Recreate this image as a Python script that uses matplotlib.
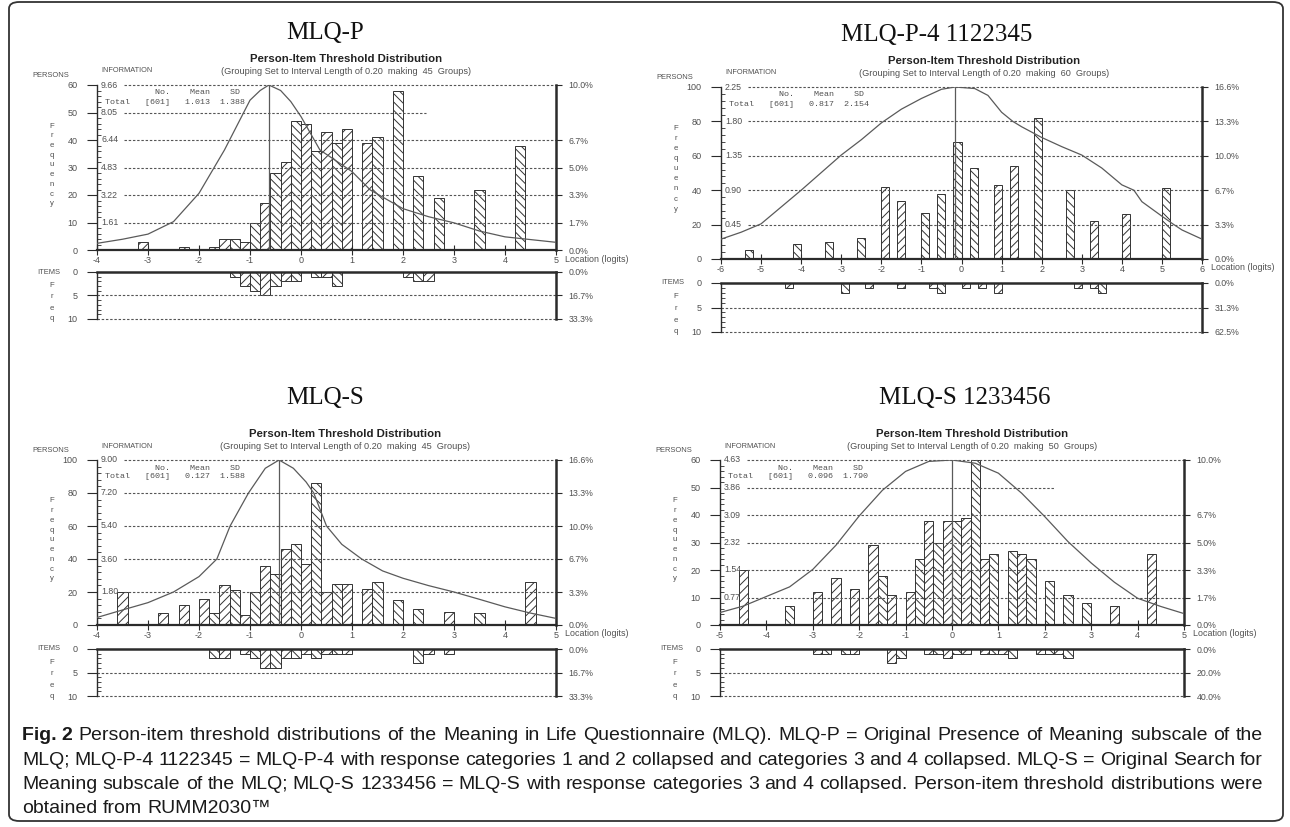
import numpy as np
import matplotlib
matplotlib.use('Agg')
import matplotlib.pyplot as plt
from matplotlib.ticker import MultipleLocator
from matplotlib.patches import FancyBboxPatch

plt.rcParams['font.family'] = ['Liberation Sans', 'DejaVu Sans']
plt.rcParams['hatch.linewidth'] = 0.7
plt.rcParams['axes.unicode_minus'] = False

W, H = 1290, 827
INK = '#2b2b2b'
GREY = '#505050'
DASH = (0, (2.2, 1.6))

# ----------------------------- data

# MLQ-P
p_person_loc = [-3.1, -2.3, -1.7, -1.5, -1.3, -1.1, -0.9, -0.7, -0.5, -0.3, -0.1, 0.1, 0.3,
                0.5, 0.7, 0.9, 1.3, 1.5, 1.9, 2.3, 2.7, 3.5, 4.3]
p_person_n = [3, 1, 1, 4, 4, 3, 10, 17, 28, 32, 47, 46, 36, 43, 39, 44, 39, 41, 58, 27, 19, 22, 38]
p_item_loc = [-1.3, -1.1, -0.9, -0.7, -0.5, -0.3, -0.1, 0.3, 0.5, 0.7, 2.1, 2.3, 2.5]
p_item_n = [1, 3, 4, 5, 3, 2, 2, 1, 1, 3, 1, 2, 2]
p_info_loc = [-4, -3.5, -3, -2.5, -2, -1.5, -1, -0.8, -0.63, -0.4, -0.2, 0, 0.37, 1.0, 1.36,
              2.0, 2.5, 3.0, 3.5, 4.0, 5.0]
p_info = [0.39, 0.63, 0.93, 1.66, 3.32, 5.86, 8.77, 9.34, 9.66, 9.34, 8.69, 7.81, 5.86, 4.59,
          3.51, 2.42, 1.95, 1.59, 1.11, 0.77, 0.45]

# MLQ-P-4 1122345
p4_person_loc = [-5.3, -4.1, -3.3, -2.5, -1.9, -1.5, -0.9, -0.5, -0.1, 0.3, 0.9, 1.3, 1.9,
                 2.7, 3.3, 4.1, 5.1]
p4_person_n = [5, 9, 10, 12, 42, 34, 27, 38, 68, 53, 43, 54, 82, 40, 22, 26, 41]
p4_item_loc = [-4.3, -2.9, -2.3, -1.5, -0.7, -0.5, 0.1, 0.5, 0.9, 2.9, 3.3, 3.5]
p4_item_n = [1, 2, 1, 1, 1, 2, 1, 1, 2, 1, 1, 2]
p4_info_loc = [-6, -5.5, -5, -4.5, -4, -3.5, -3, -2.5, -2, -1.5, -1, -0.5, -0.16, 0.33, 0.66,
               1.0, 1.28, 1.5, 2.0, 2.5, 3.0, 3.5, 4.0, 4.3, 4.5, 5.0, 5.27, 5.5, 6.0]
p4_info = [0.26, 0.35, 0.46, 0.68, 0.90, 1.13, 1.36, 1.56, 1.78, 1.96, 2.10, 2.22, 2.25, 2.23,
           2.14, 1.92, 1.80, 1.73, 1.59, 1.47, 1.36, 1.19, 0.97, 0.90, 0.75, 0.56, 0.46, 0.38,
           0.26]

# MLQ-S
s_person_loc = [-3.5, -2.7, -2.3, -1.9, -1.7, -1.5, -1.3, -1.1, -0.9, -0.7, -0.5, -0.3, -0.1,
                0.1, 0.3, 0.5, 0.7, 0.9, 1.3, 1.5, 1.9, 2.3, 2.9, 3.5, 4.5]
s_person_n = [20, 7, 12, 16, 7, 24, 21, 6, 20, 36, 31, 46, 49, 37, 86, 20, 25, 25, 22, 26, 15,
              10, 8, 7, 26]
s_item_loc = [-1.7, -1.5, -1.1, -0.9, -0.7, -0.5, -0.3, -0.1, 0.1, 0.3, 0.5, 0.7, 0.9, 2.3,
              2.5, 2.9]
s_item_n = [2, 2, 1, 2, 4, 4, 2, 2, 1, 2, 1, 1, 1, 3, 1, 1]
s_info_loc = [-4, -3.5, -3, -2.5, -2, -1.65, -1.39, -1.03, -0.7, -0.43, -0.15, 0.1, 0.25, 0.5,
              0.8, 1.19, 1.6, 2.0, 2.5, 3.0, 3.5, 4.0, 4.5, 5.0]
s_info = [0.41, 0.82, 1.22, 1.80, 2.64, 3.60, 5.40, 7.20, 8.55, 9.00, 8.55, 7.80, 7.20, 5.40,
          4.40, 3.60, 2.95, 2.55, 2.15, 1.80, 1.40, 0.99, 0.65, 0.36]

# MLQ-S 1233456
s6_person_loc = [-4.5, -3.5, -2.9, -2.5, -2.1, -1.7, -1.5, -1.3, -0.9, -0.7, -0.5, -0.3, -0.1,
                 0.1, 0.3, 0.5, 0.7, 0.9, 1.3, 1.5, 1.7, 2.1, 2.5, 2.9, 3.5, 4.3]
s6_person_n = [20, 7, 12, 17, 13, 29, 18, 11, 12, 24, 38, 30, 38, 38, 39, 60, 24, 26, 27, 26,
               24, 16, 11, 8, 7, 26]
s6_item_loc = [-2.9, -2.7, -2.3, -2.1, -1.3, -1.1, -0.5, -0.3, -0.1, 0.1, 0.3, 0.7, 0.9, 1.1,
               1.3, 1.9, 2.1, 2.3, 2.5]
s6_item_n = [1, 1, 1, 1, 3, 2, 1, 1, 2, 1, 1, 1, 1, 1, 2, 1, 1, 1, 2]
s6_info_loc = [-5, -4.5, -4, -3.5, -3, -2.5, -2, -1.5, -1, -0.5, 0, 0.5, 1, 1.5, 2, 2.5, 3,
               3.5, 4, 4.5, 5]
s6_info = [0.35, 0.53, 0.80, 1.07, 1.56, 2.24, 3.06, 3.78, 4.31, 4.59, 4.63, 4.54, 4.26, 3.70,
           3.04, 2.34, 1.74, 1.20, 0.75, 0.52, 0.32]

# axis labels
info_ticks_60 = [60, 50, 40, 30, 20, 10]
info_ticks_100 = [100, 80, 60, 40, 20]
p_info_labels = ['9.66', '8.05', '6.44', '4.83', '3.22', '1.61']
p4_info_labels = ['2.25', '1.80', '1.35', '0.90', '0.45']
s_info_labels = ['9.00', '7.20', '5.40', '3.60', '1.80']
s6_info_labels = ['4.63', '3.86', '3.09', '2.32', '1.54', '0.77']
pct_pos_60 = [60, 40, 30, 20, 10, 0]
pct_lab_60 = ['10.0%', '6.7%', '5.0%', '3.3%', '1.7%', '0.0%']
pct_pos_100 = [100, 80, 60, 40, 20, 0]
pct_lab_100 = ['16.6%', '13.3%', '10.0%', '6.7%', '3.3%', '0.0%']
p_item_pct = ['0.0%', '16.7%', '33.3%']
p4_item_pct = ['0.0%', '31.3%', '62.5%']
s6_item_pct = ['0.0%', '20.0%', '40.0%']

caption = [
    'Person-item threshold distributions of the Meaning in Life Questionnaire (MLQ). '
    'MLQ-P = Original Presence of Meaning subscale of the',
    'MLQ; MLQ-P-4 1122345 = MLQ-P-4 with response categories 1 and 2 collapsed and '
    'categories 3 and 4 collapsed. MLQ-S = Original Search for',
    'Meaning subscale of the MLQ; MLQ-S 1233456 = MLQ-S with response categories 3 and 4 '
    'collapsed. Person-item threshold distributions were',
    'obtained from RUMM2030\u2122',
]

# ----------------------------- drawing

fig = plt.figure(figsize=(W / 100, H / 100), dpi=100)
fig.patch.set_facecolor('white')


def px_axes(left, top, right, bottom):
    return fig.add_axes([left / W, 1 - bottom / H, (right - left) / W, (bottom - top) / H])


def px_text(x, y, s, **kw):
    kw.setdefault('color', GREY)
    return fig.text(x / W, 1 - y / H, s, **kw)


def draw_bars(ax, loc, n, xmin):
    bars = ax.bar(loc, n, width=0.2, color='white', edgecolor='#333333', linewidth=0.7)
    for b, c in zip(bars, loc):
        k = int(round((c - xmin) / 0.2 - 0.5))
        b.set_hatch('\\\\\\\\' if k % 2 else '////')


def draw_panel(box, xlim, pstep, pmax, pminor, person_loc, person_n, item_loc, item_n,
               info_loc, info_val, info_pos, info_labels, pct_pos, pct_labels, item_pct,
               peak, stats, groups, title, title_xy, head_x, cut50=None):
    x0, x1, ptop, pbot, itop, ibot = box
    xmin, xmax = xlim
    upx = (xmax - xmin) / (x1 - x0)

    # ---- persons
    ax = px_axes(x0, ptop, x1, pbot)
    ax.set_xlim(xmin, xmax)
    ax.set_ylim(0, pmax)
    ax.set_facecolor('none')
    ax.spines['top'].set_visible(False)
    ax.spines['right'].set_visible(False)
    ax.spines['left'].set_linewidth(1.0)
    ax.spines['bottom'].set_linewidth(1.6)
    for s in ax.spines.values():
        s.set_color(INK)
    ax.set_xticks(range(xmin, xmax + 1))
    ax.set_xticklabels([str(v) for v in range(xmin, xmax + 1)])
    ax.tick_params(axis='x', direction='inout', length=7, width=0.8, color=INK,
                   labelsize=6.5, labelcolor=GREY, pad=1)
    ax.set_yticks(np.arange(0, pmax + 1, pstep))
    ax.yaxis.set_minor_locator(MultipleLocator(pminor))
    ax.tick_params(axis='y', which='major', direction='out', length=7, width=0.8, color=INK,
                   labelsize=6.5, labelcolor=GREY, pad=7)
    ax.tick_params(axis='y', which='minor', direction='in', length=3, width=0.6, color=INK)

    draw_bars(ax, person_loc, person_n, xmin)

    for yv, lab in zip(info_pos, info_labels):
        xend = cut50 if (cut50 is not None and yv == 50) else xmax
        ax.hlines(yv, xmin + 27 * upx, xend, colors='#555555', linestyles=DASH,
                  linewidth=0.8, clip_on=False)
        ax.text(xmin + 4 * upx, yv, lab, fontsize=6.3, color=GREY, va='center', ha='left')

    ax_r = ax.twinx()
    ax_r.set_ylim(0, pmax)
    for k in ['top', 'left', 'bottom']:
        ax_r.spines[k].set_visible(False)
    ax_r.spines['right'].set_linewidth(1.8)
    ax_r.spines['right'].set_color(INK)
    ax_r.set_yticks(pct_pos)
    ax_r.set_yticklabels(pct_labels)
    ax_r.tick_params(axis='y', direction='out', length=4, width=0.8, color=INK,
                     labelsize=6.3, labelcolor=GREY, pad=5)

    ax_i = ax.twinx()
    ax_i.set_ylim(0, float(info_labels[0]))
    ax_i.axis('off')
    ax_i.plot(info_loc, info_val, color='#5a5a5a', linewidth=0.9)
    ax_i.vlines(peak, 0, float(info_labels[0]), colors='#5a5a5a', linewidth=0.9)

    # ---- items
    axb = px_axes(x0, itop, x1, ibot)
    axb.set_xlim(xmin, xmax)
    axb.set_ylim(10, 0)
    axb.set_facecolor('none')
    axb.spines['bottom'].set_visible(False)
    axb.spines['right'].set_visible(False)
    axb.spines['top'].set_linewidth(1.8)
    axb.spines['left'].set_linewidth(1.0)
    for s in axb.spines.values():
        s.set_color(INK)
    axb.set_xticks([])
    axb.set_yticks([0, 5, 10])
    axb.yaxis.set_minor_locator(MultipleLocator(1))
    axb.tick_params(axis='y', which='major', direction='out', length=7, width=0.8, color=INK,
                    labelsize=6.5, labelcolor=GREY, pad=7)
    axb.tick_params(axis='y', which='minor', direction='in', length=3, width=0.6, color=INK)
    draw_bars(axb, item_loc, item_n, xmin)
    for yv in [5, 10]:
        axb.hlines(yv, xmin, xmax, colors='#555555', linestyles=DASH, linewidth=0.8,
                   clip_on=False)
    axb_r = axb.twinx()
    axb_r.set_ylim(10, 0)
    for k in ['top', 'left', 'bottom']:
        axb_r.spines[k].set_visible(False)
    axb_r.spines['right'].set_linewidth(1.8)
    axb_r.spines['right'].set_color(INK)
    axb_r.set_yticks([0, 5, 10])
    axb_r.set_yticklabels(item_pct)
    axb_r.tick_params(axis='y', direction='out', length=4, width=0.8, color=INK,
                      labelsize=6.3, labelcolor=GREY, pad=5)

    # ---- texts
    px_text(title_xy[0], title_xy[1], title, family='Liberation Serif', fontsize=18,
            color='#111111', ha='center', va='center')
    px_text(head_x, ptop - 26, 'Person-Item Threshold Distribution', fontsize=8.2,
            fontweight='bold', color='#222222', ha='center', va='center')
    px_text(head_x, ptop - 13,
            '(Grouping Set to Interval Length of 0.20  making  %d  Groups)' % groups,
            fontsize=6.6, ha='center', va='center')
    px_text(x0 - 65, ptop - 9.5, 'PERSONS', fontsize=5.4, ha='left', va='center')
    px_text(x0 + 4, ptop - 14, 'INFORMATION', fontsize=5.3, ha='left', va='center')
    px_text(x0 + 8, ptop + 8, ' ' * 10 + 'No.' + ' ' * 4 + 'Mean' + ' ' * 4 + 'SD',
            family='Liberation Mono', fontsize=6, ha='left', va='center')
    px_text(x0 + 8, ptop + 17, 'Total   [%s]   %s  %s' % stats,
            family='Liberation Mono', fontsize=6, ha='left', va='center')
    step = (pbot - ptop) * 0.059
    for i, ch in enumerate('Frequency'):
        px_text(x0 - 45, ptop + 41 + i * step, ch, fontsize=5.6, ha='center', va='center')
    px_text(x1 + 9, pbot + 9, 'Location (logits)', fontsize=6.4, ha='left', va='center')
    px_text(x0 - 60, itop, 'ITEMS', fontsize=5.4, ha='left', va='center')
    ih = ibot - itop
    for ch, f in zip('Freq', [0.28, 0.52, 0.77, 1.0]):
        px_text(x0 - 45, itop + f * ih, ch, fontsize=5.6, ha='center', va='center')


draw_panel((97, 556, 85, 250, 272, 319), (-4, 5), 10, 60, 2,
           p_person_loc, p_person_n, p_item_loc, p_item_n, p_info_loc, p_info,
           info_ticks_60, p_info_labels, pct_pos_60, pct_lab_60, p_item_pct,
           -0.63, ('601', '1.013', '1.388'), 45, 'MLQ-P', (325, 33), 346, cut50=2.45)

draw_panel((721, 1202, 87, 259, 283, 332), (-6, 6), 20, 100, 4,
           p4_person_loc, p4_person_n, p4_item_loc, p4_item_n, p4_info_loc, p4_info,
           info_ticks_100, p4_info_labels, pct_pos_100, pct_lab_100, p4_item_pct,
           -0.16, ('601', '0.817', '2.154'), 60, 'MLQ-P-4 1122345', (937, 35), 984)

draw_panel((97, 556, 460, 625, 649, 696), (-4, 5), 20, 100, 4,
           s_person_loc, s_person_n, s_item_loc, s_item_n, s_info_loc, s_info,
           info_ticks_100, s_info_labels, pct_pos_100, pct_lab_100, p_item_pct,
           -0.43, ('601', '0.127', '1.588'), 45, 'MLQ-S', (325, 398), 345)

draw_panel((720, 1184, 460, 625, 649, 696), (-5, 5), 10, 60, 2,
           s6_person_loc, s6_person_n, s6_item_loc, s6_item_n, s6_info_loc, s6_info,
           info_ticks_60, s6_info_labels, pct_pos_60, pct_lab_60, s6_item_pct,
           0.0, ('601', '0.096', '1.790'), 50, 'MLQ-S 1233456', (965, 398), 972, cut50=2.22)

# ----------------------------- caption (justified) and frame

CAP_SIZE = 14.0
renderer = fig.canvas.get_renderer()
fig_tag = px_text(22, 736, 'Fig. 2', fontsize=CAP_SIZE, fontweight='bold', color='#1a1a1a',
                  ha='left', va='center')
tag_w = fig_tag.get_window_extent(renderer).width
space_w = 0.28 * CAP_SIZE * 100 / 72

for i, line in enumerate(caption):
    y = 736 + i * 24.3
    left = 22 + tag_w + space_w if i == 0 else 22
    words = line.split(' ')
    items = [px_text(left, y, wd, fontsize=CAP_SIZE, color='#1a1a1a', ha='left', va='center')
             for wd in words]
    widths = [t.get_window_extent(renderer).width for t in items]
    if i < len(caption) - 1:
        gap = max(3.0, (1263 - left - sum(widths)) / (len(words) - 1))
    else:
        gap = space_w
    x = left
    for t, wdt in zip(items, widths):
        t.set_x(x / W)
        x += wdt + gap

frame = FancyBboxPatch((9 / W, 1 - 821 / H), (1283 - 9) / W, (821 - 2) / H,
                       boxstyle='round,pad=0,rounding_size=0.008', transform=fig.transFigure,
                       fill=False, edgecolor='#333333', linewidth=1.3)
fig.add_artist(frame)

fig.savefig('out.png', dpi=100)
